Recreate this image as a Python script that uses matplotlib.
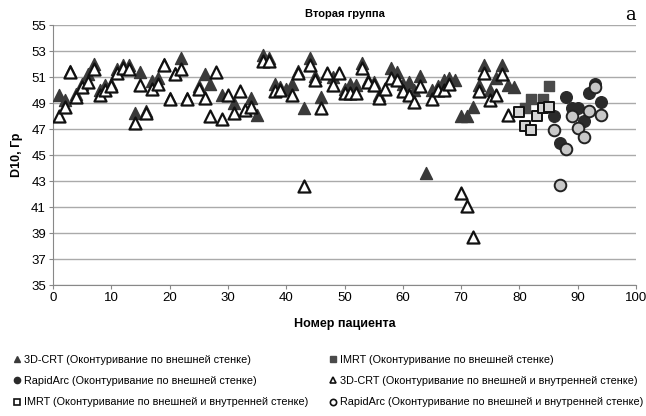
import matplotlib
matplotlib.use("Agg")
import matplotlib.pyplot as plt
import numpy as np
from matplotlib.lines import Line2D

nan = np.nan
# 3D-CRT, patients 1..79
crt_patients = list(range(1, 80))
crt_outer = [49.6, 49.2, 51.5, 49.7, 50.5, 51.2, 52.0, 50.0, 50.4, 50.5,
             51.6, 51.9, 51.9, 48.2, 51.4, 48.4, 50.7, 50.9, 52.0, 49.4,
             51.3, 52.5, 49.4, nan, 50.3, 51.2, 50.5, nan, 49.6, nan,
             49.0, nan, nan, 49.4, 48.1, 52.7, 52.5, 50.5, 50.2, 50.1,
             50.5, 51.5, 48.6, 52.5, 51.1, 49.5, nan, 51.0, nan, 50.1,
             50.5, 50.4, 52.1, 50.8, 50.6, 49.6, nan, 51.7, 51.4, 50.5,
             50.6, 50.0, 51.1, 43.6, 50.0, 50.3, 50.8, 50.9, 50.8, 48.0,
             48.0, 48.7, 50.4, 51.9, 50.0, 50.9, 51.9, 50.4, 50.2]
crt_both = [48.0, 48.7, 51.4, 49.5, 50.2, 50.6, 51.6, 49.6, 50.0, 50.3,
            51.3, 51.7, 51.6, 47.5, 50.4, 48.2, 50.1, 50.5, 51.9, 49.3,
            51.2, 51.6, 49.3, nan, 50.1, 49.4, 48.0, 51.4, 47.8, 49.6,
            48.2, 49.9, 48.5, 48.7, nan, 52.2, 52.2, 49.9, 50.0, nan,
            49.6, 51.3, 42.6, 51.9, 50.8, 48.6, 51.3, 50.4, 51.3, 49.8,
            49.8, 49.8, 51.7, 50.6, 50.4, 49.4, 50.1, 50.9, 50.8, 49.9,
            49.6, 49.1, 50.3, nan, 49.3, 50.0, 50.0, 50.5, nan, 42.1,
            41.1, 38.7, 49.9, 51.3, 49.2, 49.6, 51.2, 48.1, nan]

# IMRT
imrt_outer_patients = [81, 82, 84, 85]
imrt_outer = [48.6, 49.3, 49.3, 50.3]
imrt_both_patients = [80, 81, 82, 83, 84, 85]
imrt_both = [48.3, 47.2, 46.9, 48.0, 48.6, 48.7]

# RapidArc
ra_patients = [86, 87, 88, 89, 90, 91, 92, 93, 94]
ra_outer = [48.0, 45.9, 49.5, 48.6, 48.6, 47.6, 49.8, 50.5, 49.1]
ra_both = [46.9, 42.7, 45.5, 48.0, 47.1, 46.4, 48.4, 50.2, 48.1]

xticks = list(range(0, 101, 10))
yticks = list(range(35, 56, 2))

labels = ["3D-CRT (Оконтуривание по внешней стенке)",
          "IMRT (Оконтуривание по внешней стенке)",
          "RapidArc (Оконтуривание по внешней стенке)",
          "3D-CRT (Оконтуривание по внешней и внутренней стенке)",
          "IMRT (Оконтуривание по внешней и внутренней стенке)",
          "RapidArc (Оконтуривание по внешней и внутренней стенке)"]

plt.rcParams['font.family'] = ['Liberation Sans', 'DejaVu Sans']

fig = plt.figure(figsize=(6.46, 4.16), dpi=100)
ax = fig.add_axes([53/646, 1-285/416, (636-53)/646, (285-25)/416])

ax.scatter(crt_patients, crt_outer, marker='^', s=75, color='#3a3a3a', zorder=3)
ax.scatter(imrt_outer_patients, imrt_outer, marker='s', s=60, color='#4a4a4a', zorder=3)
ax.scatter(ra_patients, ra_outer, marker='o', s=70, color='#2a2a2a', zorder=3)
ax.scatter(crt_patients, crt_both, marker='^', s=75, facecolor='white',
           edgecolor='#111111', linewidth=1.6, zorder=4)
ax.scatter(imrt_both_patients, imrt_both, marker='s', s=60, facecolor='#d4d4d4',
           edgecolor='#111111', linewidth=1.4, zorder=4)
ax.scatter(ra_patients, ra_both, marker='o', s=70, facecolor='#c8c8c8',
           edgecolor='#222222', linewidth=1.4, zorder=4)

ax.set_xlim(0, 100)
ax.set_ylim(35, 55)
ax.set_xticks(xticks)
ax.set_yticks(yticks)
ax.tick_params(labelsize=9.5, length=3, color='#888888', pad=2)
ax.grid(axis='y', color='#aaaaaa', linewidth=1.0, zorder=0)
ax.set_axisbelow(True)
for s in ['top', 'right']:
    ax.spines[s].set_visible(False)
for s in ['left', 'bottom']:
    ax.spines[s].set_color('#888888')

ax.set_title("Вторая группа", fontsize=8, fontweight='bold', pad=6)
ax.set_xlabel("Номер пациента", fontsize=9, fontweight='bold', labelpad=10)
ax.set_ylabel("D10, Гр", fontsize=9, fontweight='bold', labelpad=6)
fig.text(630/646, 1-15/416, "а", fontsize=13, family='DejaVu Serif',
         ha='center', va='center')

h_tri_f = Line2D([], [], marker='^', ls='', color='#3a3a3a', ms=4.5)
h_circ_f = Line2D([], [], marker='o', ls='', color='#2a2a2a', ms=4.5)
h_sq_o = Line2D([], [], marker='s', ls='', markerfacecolor='white', markeredgecolor='#111111', mew=1.2, ms=4.5)
h_sq_f = Line2D([], [], marker='s', ls='', color='#4a4a4a', ms=4.5)
h_tri_o = Line2D([], [], marker='^', ls='', markerfacecolor='white', markeredgecolor='#111111', mew=1.2, ms=4.5)
h_circ_o = Line2D([], [], marker='o', ls='', markerfacecolor='white', markeredgecolor='#111111', mew=1.2, ms=4.5)

common = dict(frameon=False, fontsize=7.8, handlelength=0.6, handletextpad=0.3,
              labelspacing=1.05, borderaxespad=0.0, borderpad=0.0)
fig.legend([h_tri_f, h_circ_f, h_sq_o], [labels[0], labels[2], labels[4]],
           loc='center left', bbox_to_anchor=(14/646, 1-381/416), **common)
fig.legend([h_sq_f, h_tri_o, h_circ_o], [labels[1], labels[3], labels[5]],
           loc='center left', bbox_to_anchor=(330/646, 1-381/416), **common)

fig.savefig("out.png", dpi=100)
